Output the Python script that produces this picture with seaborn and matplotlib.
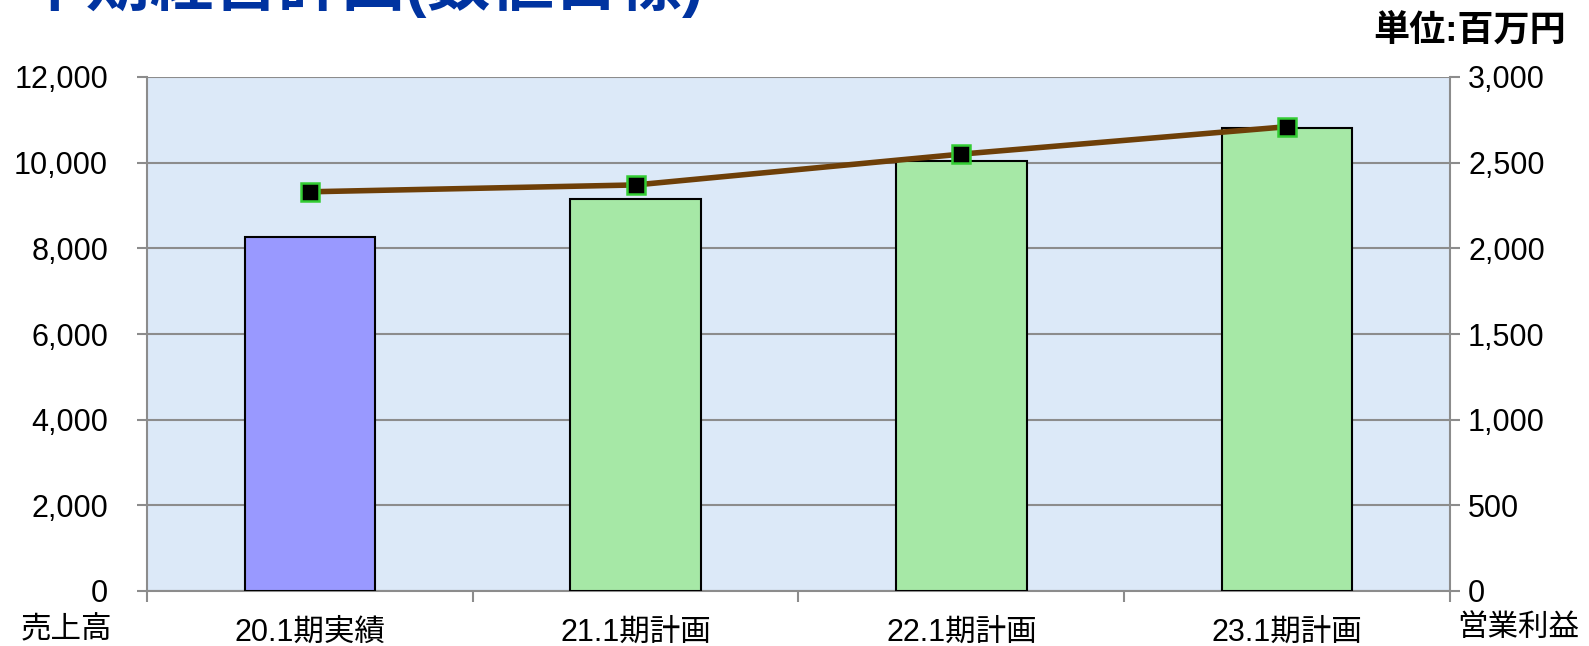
import matplotlib
matplotlib.use("Agg")
import matplotlib.pyplot as plt
from matplotlib.ticker import FuncFormatter, FixedLocator
import seaborn as sns
import numpy as np
import pandas as pd

# data (units: million yen)
periods = ["20.1期実績", "21.1期計画", "22.1期計画", "23.1期計画"]
sales = [8270, 9150, 10050, 10800]          # 売上高 (left axis)
op_profit = [2330, 2370, 2550, 2710]        # 営業利益 (right axis)
bar_colors = ["#9999FF", "#A6E8A6", "#A6E8A6", "#A6E8A6"]

sns.set_style("white")
plt.rcParams["font.family"] = ["Liberation Sans", "Noto Sans CJK JP", "DejaVu Sans"]
plt.rcParams["text.color"] = "black"
plt.rcParams["xtick.color"] = "black"
plt.rcParams["ytick.color"] = "black"

df = pd.DataFrame({"period": periods, "sales": sales})

fig = plt.figure(figsize=(15.89, 6.46), dpi=100)
ax = fig.add_axes([147 / 1589, 1 - 591 / 646, 1303 / 1589, 514 / 646])
ax.set_facecolor("#DCE9F8")

sns.barplot(data=df, x="period", y="sales", hue="period", palette=bar_colors,
            saturation=1, width=0.4, edgecolor="black", linewidth=1.5,
            legend=False, ax=ax, zorder=3)

ax.set_ylim(0, 12000)
ax.set_xlim(-0.5, 3.5)
ax.set_yticks(np.arange(0, 12001, 2000))
ax.yaxis.set_major_formatter(FuncFormatter(lambda v, p: f"{int(v):,}"))
ax.grid(axis="y", color="#8C8C8C", linewidth=1.5, zorder=0)
ax.set_axisbelow(True)
ax.set_xlabel("")
ax.set_ylabel("")

for s in ax.spines.values():
    s.set_color("#8C8C8C")
    s.set_linewidth(1.5)
ax.spines["top"].set_visible(False)

ax.tick_params(axis="y", length=7, width=1.5, color="#8C8C8C", pad=21,
               labelsize=22, labelcolor="black", left=True)
ax.tick_params(axis="x", which="major", length=0, pad=19, labelsize=22,
               labelcolor="black")
ax.xaxis.set_minor_locator(FixedLocator([-0.5, 0.5, 1.5, 2.5, 3.5]))
ax.tick_params(axis="x", which="minor", length=8, width=1.5, color="#8C8C8C", bottom=True)

ax2 = ax.twinx()
sns.lineplot(x=np.arange(len(periods)), y=op_profit, ax=ax2, color="#6E3F08",
             linewidth=4, marker="s", markersize=13, markerfacecolor="black",
             markeredgecolor="#33CC33", markeredgewidth=1.8, zorder=5)
ax2.set_ylim(0, 3000)
ax2.set_yticks(np.arange(0, 3001, 500))
ax2.yaxis.set_major_formatter(FuncFormatter(lambda v, p: f"{int(v):,}"))
ax2.tick_params(axis="y", length=7, width=1.5, color="#8C8C8C", pad=6,
                labelsize=22, labelcolor="black", right=True)
for s in ax2.spines.values():
    s.set_visible(False)
ax2.set_xlim(-0.5, 3.5)

fig.text(66 / 1589, 1 - 630 / 646, "売上高", fontsize=22, ha="center", va="center")
fig.text(1518 / 1589, 1 - 628 / 646, "営業利益", fontsize=22, ha="center", va="center")
fig.text(1566 / 1589, 1 - 31 / 646, "単位:百万円", fontsize=26, fontweight="bold",
         ha="right", va="center")
fig.text(22 / 1589, 1 - 5 / 646, "中期経営計画(数値目標)", fontsize=46, fontweight="bold",
         color="#0033A0", ha="left", va="baseline")

fig.savefig("out.png", dpi=100)
